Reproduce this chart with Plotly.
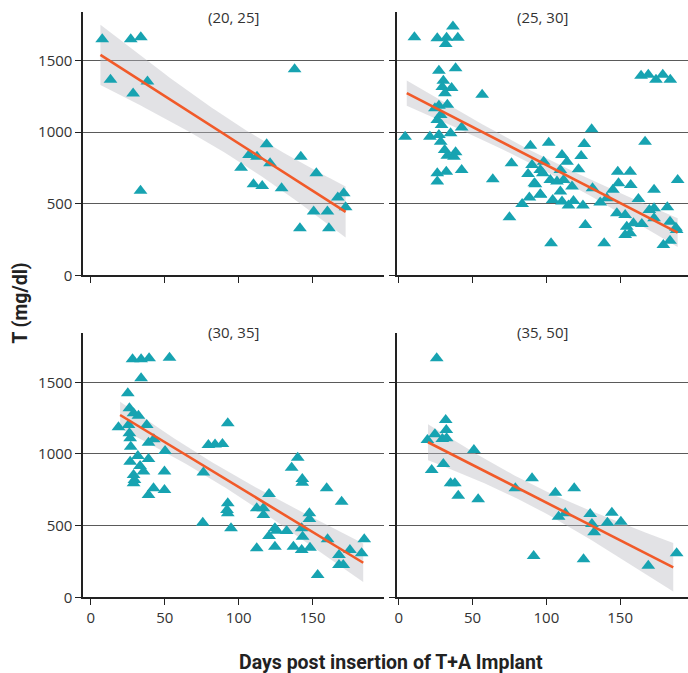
import numpy as np
import plotly.graph_objects as go

# ---------------- data ----------------
panel_titles = ["(20, 25]", "(25, 30]", "(30, 35]", "(35, 50]"]

x_20_25 = [7.7, 27, 33.8, 13.3, 28.6, 38.3, 33.6, 101.6, 137.8, 107, 112.4, 118.9, 121.2,
           110, 115.9, 129, 142, 152.5, 141.4, 150.7, 160, 161, 167, 171, 172.3]
y_20_25 = [1650, 1650, 1664, 1366, 1270, 1354, 590, 752, 1440, 841, 829, 916, 783,
           636, 624, 608, 829, 713, 329, 445, 445, 329, 543, 573, 475]

x_25_30 = [10.6, 26.1, 32.4, 36.7, 40.0, 31.8, 27.2, 38.5, 30.2, 29.5, 35.8, 31.3, 56.5,
           32.9, 24.5, 27.2, 28.4, 26.1, 29.0, 42.6, 4.3, 21.1, 27.2, 35.1, 28.4, 31.1,
           38.5, 32.9, 37.4, 26.1, 32.2, 42.6, 26.1, 63.7, 76.4, 89.2, 90.3, 87.6, 95.9,
           92.6, 88.5, 95.9, 83.6, 75.0,
           101.6, 125.7, 130.7, 123.6, 110.6, 114.0, 98.2, 121.8, 97.6, 109.5, 102.7,
           111.7, 107.2, 91.9, 117.4, 109.5, 96.0, 104.3, 110.6, 115.0, 118.4, 124.8,
           126.4, 103.2, 139.2, 131.3, 136.5, 141.0, 145.1, 148.4, 148.9, 156.8, 157.2,
           162.4, 147.8, 153.4, 154.5, 159.0, 153.4, 156.8, 164.7, 169.8, 173.0, 173.0,
           166.9, 182.0, 183.8, 187.8, 179.3, 183.8, 189.0, 188.3, 173.0,
           164.2, 169.1, 174.3, 178.9, 184.0]
y_25_30 = [1664, 1657, 1660, 1739, 1660, 1617, 1429, 1447, 1359, 1315, 1308, 1273, 1261,
           1191, 1168, 1184, 1121, 1086, 1051, 1032, 969, 969, 981, 993, 934, 876,
           860, 836, 829, 713, 724, 736, 655, 671, 783, 906, 771, 708, 736,
           636, 543, 566, 499, 406,
           927, 918, 1021, 834, 841, 794, 794, 741, 713, 736, 666,
           666, 655, 643, 620, 585, 562, 527, 515, 487, 520, 487,
           352, 224, 224, 608, 508, 538, 597, 724, 643, 724, 631,
           534, 434, 422, 340, 364, 282, 294, 359, 457, 469, 597,
           934, 475, 375, 333, 212, 242, 666, 317, 399,
           1394, 1401, 1366, 1401, 1366]

x_30_35 = [28.2, 34.0, 39.4, 53.2, 34.0, 25.0, 26.1, 28.9, 32.2, 18.7, 25.5, 37.8, 26.1,
           26.6, 39.0, 42.6, 27.0, 50.2, 31.8, 26.6, 39.0, 33.3, 35.6, 28.9, 49.8, 29.5,
           28.9, 42.4, 39.0, 49.8, 76.1, 75.7, 79.5, 84.0, 89.0, 92.6, 92.6, 92.1, 92.6,
           94.8,
           139.9, 135.8, 143.0, 143.0, 159.5, 169.6, 120.5, 112.2, 116.7, 116.7, 124.5,
           125.7, 132.4, 120.5, 112.2, 124.5, 137.0, 142.6, 148.2, 142.6, 143.2, 147.8,
           147.8, 153.4, 160.1, 167.8, 167.8, 170.7, 175.2, 183.1, 184.9]
y_30_35 = [1661, 1661, 1668, 1672, 1528, 1424, 1319, 1284, 1267, 1186, 1202, 1202, 1144,
           1110, 1079, 1103, 1051, 1021, 986, 946, 965, 916, 877, 853, 877, 819,
           796, 761, 714, 749, 870, 521, 1063, 1066, 1070, 1214, 656, 609, 586,
           481,
           974, 904, 826, 800, 761, 667, 721, 621, 621, 574, 481,
           465, 463, 428, 342, 353, 353, 330, 346, 481, 423, 586,
           546, 156, 405, 295, 225, 225, 330, 307, 405]

x_35_50 = [25.7, 31.8, 32.2, 24.5, 19.4, 29.5, 32.4, 50.9, 30.2, 22.3, 35.1, 38.0, 40.3,
           53.8, 79.0, 90.3, 91.4, 106.1, 118.9, 108.3, 112.8, 129.7, 130.9, 132.4,
           141.4, 144.4, 150.5, 125.2, 169.1, 188.3]
y_35_50 = [1668, 1237, 1167, 1137, 1098, 1105, 1110, 1028, 930, 888, 796, 796, 709,
           684, 761, 830, 288, 730, 761, 562, 586, 581, 512, 454,
           521, 590, 528, 265, 221, 307]

panel_x = [x_20_25, x_25_30, x_30_35, x_35_50]
panel_y = [y_20_25, y_25_30, y_30_35, y_35_50]

# fitted trend lines (start/end day and value per panel)
fit_x_start = [6.5, 5.4, 19.8, 19.8]
fit_x_end = [172.3, 189.0, 184.2, 186.0]
fit_y_start = [1540, 1273, 1272, 1082]
fit_y_end = [443, 298, 241, 209]
# confidence band half-widths (mg/dl): at start, narrowest, at end
band_half_start = [210, 88, 93, 125]
band_half_min = [125, 45, 60, 75]
band_half_end = [178, 100, 135, 169]

x_ticks = [0, 50, 100, 150]
y_ticks = [0, 500, 1000, 1500]

# ---------------- styles ----------------
TEAL = "#17A3B1"
ORANGE = "#F15A29"
BAND = "rgba(185,187,192,0.42)"
TXT = "#333333"
FONT = "Open Sans"
H_EFF = 664.0


def band(i):
    xs_, xe_ = fit_x_start[i], fit_x_end[i]
    hs, hm, he = band_half_start[i], band_half_min[i], band_half_end[i]
    r = np.sqrt((hs ** 2 - hm ** 2) / (he ** 2 - hm ** 2))
    xc = (xs_ + r * xe_) / (1 + r)
    k = (hs ** 2 - hm ** 2) / (xs_ - xc) ** 2
    xs = np.linspace(xs_, xe_, 80)
    fit = fit_y_start[i] + (fit_y_end[i] - fit_y_start[i]) * (xs - xs_) / (xe_ - xs_)
    half = np.sqrt(hm ** 2 + k * (xs - xc) ** 2)
    return xs, fit, fit - half, fit + half


def py(p):
    return 1 - p / H_EFF


fig = go.Figure()

xdom = {0: [0.1187, 0.5563], 1: [0.5756, 1.0]}
ydom = {0: [py(275.3), py(11.7)], 1: [py(597.3), py(333.3)]}
xrng = {0: [-5, 198], 1: [-1.3, 196]}
Y_RANGE = [0, 1842]

for i in range(4):
    col = i % 2
    row = i // 2
    k = "" if i == 0 else str(i + 1)
    xa, ya = "x" + k, "y" + k
    xs, fit, lo, hi = band(i)
    fig.add_trace(go.Scatter(
        x=np.concatenate([xs, xs[::-1]]), y=np.concatenate([hi, lo[::-1]]),
        fill="toself", fillcolor=BAND, line=dict(width=0), mode="lines",
        hoverinfo="skip", showlegend=False, xaxis=xa, yaxis=ya))
    fig.add_trace(go.Scatter(
        x=panel_x[i], y=panel_y[i], mode="markers",
        marker=dict(symbol="triangle-up", size=12, color=TEAL, line=dict(width=0)),
        showlegend=False, xaxis=xa, yaxis=ya))
    fig.add_trace(go.Scatter(
        x=xs, y=fit, mode="lines", line=dict(color=ORANGE, width=2.6),
        showlegend=False, xaxis=xa, yaxis=ya))

    xkey = "xaxis" + k
    ykey = "yaxis" + k
    fig.layout[xkey] = dict(
        domain=xdom[col], range=xrng[col], anchor=ya,
        tickvals=x_ticks, showticklabels=(row == 1),
        ticks="outside", ticklen=6, tickwidth=1.3, tickcolor="#222",
        showline=True, linecolor="#222", linewidth=2,
        showgrid=False, zeroline=False,
        tickfont=dict(family=FONT, size=15, color=TXT), fixedrange=True)
    fig.layout[ykey] = dict(
        domain=ydom[row], range=Y_RANGE, anchor=xa,
        tickvals=y_ticks, showticklabels=(col == 0),
        ticks="outside", ticklen=6, tickwidth=1.3, tickcolor="#222",
        showline=True, linecolor="#222", linewidth=2,
        showgrid=True, gridcolor="#5a5a5a", gridwidth=1.1,
        zeroline=False,
        tickfont=dict(family=FONT, size=15, color=TXT), fixedrange=True)

    cx = (xdom[col][0] + xdom[col][1]) / 2
    cy = py(16.7) if row == 0 else py(331.7)
    fig.add_annotation(text=panel_titles[i], x=cx, y=cy, xref="paper", yref="paper",
                       showarrow=False, xanchor="center", yanchor="middle",
                       font=dict(family=FONT, size=15, color=TXT))

fig.add_annotation(text="<b>Days post insertion of T+A Implant</b>", x=0.567, y=py(662),
                   xref="paper", yref="paper", showarrow=False,
                   xanchor="center", yanchor="middle",
                   font=dict(family="Roboto", size=19.5, color="#222"))
fig.add_annotation(text="<b>T (mg/dl)</b>", x=0.026, y=py(303), xref="paper", yref="paper",
                   showarrow=False, textangle=-90, xanchor="center", yanchor="middle",
                   font=dict(family="Roboto", size=19.5, color="#222"))

fig.update_layout(width=688, height=673, margin=dict(l=0, r=0, t=0, b=0),
                  plot_bgcolor="white", paper_bgcolor="white", showlegend=False)

fig.write_html("out.html")
